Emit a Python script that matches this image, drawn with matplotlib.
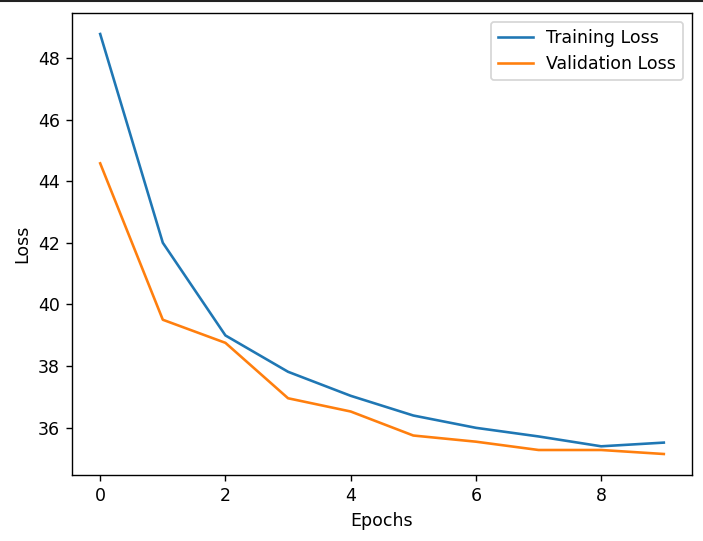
import matplotlib
matplotlib.use("Agg")
import matplotlib.pyplot as plt
from matplotlib.lines import Line2D

# loss values
epochs = list(range(10))
train_loss = [48.78, 42.0, 38.99, 37.81, 37.03, 36.39, 35.99, 35.71, 35.39, 35.51]
val_loss = [44.58, 39.5, 38.75, 36.95, 36.52, 35.74, 35.54, 35.27, 35.27, 35.14]

# reference looks like a default plot rendered at ~125 dpi
fig = plt.figure(figsize=(703 / 125, 541 / 125), dpi=125)
ax = fig.add_axes([72 / 703, 1 - 475 / 541, 620 / 703, 462 / 541])

ax.plot(epochs, train_loss, label="Training Loss")
ax.plot(epochs, val_loss, label="Validation Loss")
ax.set_xlabel("Epochs")
ax.set_ylabel("Loss")
ax.legend()

# dark strip along the top edge of the screenshot
fig.add_artist(Line2D([0, 1], [0.999, 0.999], color="#222222", linewidth=1.2,
                      transform=fig.transFigure))

fig.savefig("out.png", dpi=125)
plt.close(fig)
